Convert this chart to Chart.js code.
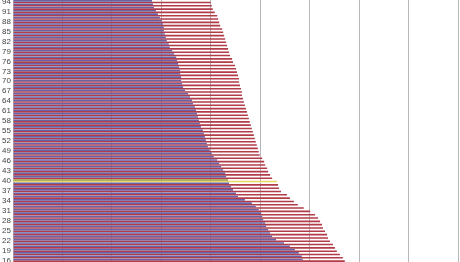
<!DOCTYPE html>
<html>
<head>
<meta charset="utf-8">
<script src="https://cdn.jsdelivr.net/npm/chart.js@4/dist/chart.umd.min.js"></script>
<style>
  html, body { margin: 0; padding: 0; background: #fff; overflow: hidden; }
  #wrap { position: relative; width: 460px; height: 262px; }
</style>
</head>
<body>
<div id="wrap"><canvas id="ageChart"></canvas></div>
<script>
// ages 16..94, bottom to top
const ages = [];
for (let a = 16; a <= 94; a++) ages.push(String(a));

// blue series, age 16 -> 94
const blueValues = [
  58.6, 58.4, 57.8, 57.0, 56.0, 54.8, 53.2, 52.4, 52.0, 51.6,
  51.2, 51.0, 50.6, 50.4, 50.2, 49.7, 49.1, 48.3, 46.9, 45.5,
  45.1, 44.5, 44.1, 43.7, 43.5, 43.1, 42.9, 42.5, 42.1, 41.7,
  41.3, 40.6, 40.2, 39.8, 39.4, 39.2, 39.0, 38.8, 38.6, 38.4,
  38.0, 37.8, 37.6, 37.4, 37.2, 37.0, 36.8, 36.4, 36.2, 35.8,
  35.4, 34.8, 34.4, 34.2, 34.0, 34.0, 33.8, 33.8, 33.6, 33.4,
  33.2, 33.0, 32.6, 32.2, 31.7, 31.5, 31.1, 30.9, 30.7, 30.5,
  30.5, 30.3, 30.1, 29.7, 29.3, 28.9, 28.5, 28.3, 28.1
];

// red series, age 16 -> 94
const redValues = [
  67.1, 66.7, 66.1, 65.5, 65.1, 64.7, 64.1, 63.7, 63.5, 63.1,
  62.7, 62.5, 62.1, 61.7, 61.1, 60.1, 58.8, 57.6, 56.8, 56.0,
  55.4, 54.2, 53.8, 53.6, 53.4, 52.4, 52.0, 51.6, 51.4, 51.0,
  50.8, 50.4, 49.9, 49.7, 49.5, 49.3, 49.1, 48.9, 48.7, 48.5,
  48.3, 48.1, 47.9, 47.7, 47.5, 47.3, 47.1, 46.9, 46.7, 46.5,
  46.3, 46.3, 46.1, 45.9, 45.7, 45.7, 45.5, 45.3, 45.1, 44.9,
  44.5, 44.3, 43.9, 43.7, 43.5, 43.3, 43.1, 42.9, 42.7, 42.5,
  42.3, 41.9, 41.7, 41.5, 41.3, 40.8, 40.4, 40.2, 40.0
];

const highlightAge = '40';

const blueColors = ages.map(a => a === highlightAge ? '#9a9440' : '#6763a6');
const redColors = ages.map(a => a === highlightAge ? '#ecd862' : '#b23c4a');

new Chart(document.getElementById('ageChart'), {
  type: 'bar',
  data: {
    labels: ages,
    datasets: [
      { data: blueValues, backgroundColor: blueColors, borderWidth: 0 },
      { data: redValues, backgroundColor: redColors, borderWidth: 0 }
    ]
  },
  options: {
    indexAxis: 'y',
    responsive: true,
    maintainAspectRatio: false,
    animation: false,
    layout: { padding: 0 },
    categoryPercentage: 0.96,
    barPercentage: 1,
    plugins: { legend: { display: false }, tooltip: { enabled: false } },
    scales: {
      x: {
        min: 0,
        max: 90.4,
        ticks: { display: false, stepSize: 10, includeBounds: false },
        grid: { color: '#b8b8b8', drawTicks: false },
        border: { display: false }
      },
      y: {
        reverse: true,
        grid: { display: false, drawTicks: false },
        border: { display: true, color: '#c4c4c4' },
        ticks: {
          autoSkip: false,
          padding: 2,
          color: '#444',
          font: { family: 'Liberation Sans', size: 8 },
          callback: function (value) {
            const lab = this.getLabelForValue(value);
            return (Number(lab) - 16) % 3 === 0 ? lab : '';
          }
        },
        afterFit: s => { s.width = 13; s.paddingTop = 0; s.paddingBottom = 0; }
      }
    }
  }
});
</script>
</body>
</html>
